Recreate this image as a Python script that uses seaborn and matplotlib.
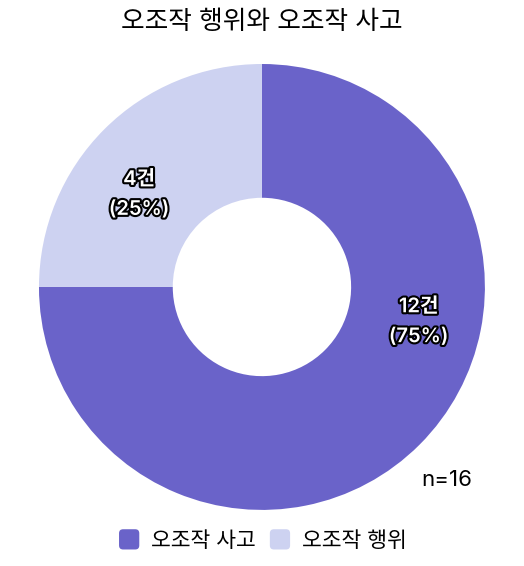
import matplotlib
matplotlib.use('Agg')
import matplotlib.pyplot as plt
import matplotlib.patheffects as pe
from matplotlib.patches import Patch, FancyBboxPatch
from matplotlib.legend_handler import HandlerPatch
import numpy as np
import seaborn as sns

# data
categories = ['오조작 사고', '오조작 행위']
counts = [12, 4]
colors = ['#6a63c9', '#cdd2f1']
# where the slice labels sit (angle in degrees, fraction of outer radius)
label_angles = [-12.5, 143.0]
label_radii = [0.72, 0.69]

sns.set_theme(style='white')
plt.rcParams['font.family'] = ['Inter', 'Noto Sans CJK KR', 'DejaVu Sans']
plt.rcParams['text.color'] = 'black'


class RoundBox(HandlerPatch):
    # legend swatch with rounded corners
    def create_artists(self, legend, orig_handle, xdescent, ydescent, width, height, fontsize, trans):
        s = min(width, height)
        p = FancyBboxPatch((-xdescent + (width - s) / 2, -ydescent + (height - s) / 2), s, s,
                           boxstyle='round,pad=0,rounding_size=%f' % (s * 0.2),
                           facecolor=orig_handle.get_facecolor(), edgecolor='none', transform=trans)
        return [p]


fig = plt.figure(figsize=(5.24, 5.66), dpi=100)
ax = fig.add_axes([0.0744, 0.099, 0.851, 0.788])

ax.pie(counts, colors=colors, startangle=90, counterclock=False,
       wedgeprops=dict(width=0.6, linewidth=0), radius=1)
ax.set_xlim(-1, 1)
ax.set_ylim(-1, 1)
ax.set_aspect('equal')
ax.axis('off')

total = sum(counts)
for c, ang, r in zip(counts, label_angles, label_radii):
    x = r * np.cos(np.radians(ang))
    y = r * np.sin(np.radians(ang))
    ax.text(x, y, f'{c}건\n({c / total * 100:.0f}%)', ha='center', va='center',
            fontsize=14.5, color='white', fontweight='semibold', linespacing=1.85,
            path_effects=[pe.withStroke(linewidth=3, foreground='black')])

fig.text(0.5, 0.96, '오조작 행위와 오조작 사고', ha='center', va='center', fontsize=18.5)
fig.text(0.853, 0.152, f'n={total}', ha='center', va='center', fontsize=16)

handles = [Patch(facecolor=col, edgecolor='none', label=lab) for col, lab in zip(colors, categories)]
fig.legend(handles=handles, loc='center', bbox_to_anchor=(0.5, 0.046), ncol=2, frameon=False,
           fontsize=15.5, handlelength=1.07, handleheight=1.07, handletextpad=0.47, columnspacing=0.6,
           handler_map={Patch: RoundBox()})

fig.savefig('out.png', dpi=100)
